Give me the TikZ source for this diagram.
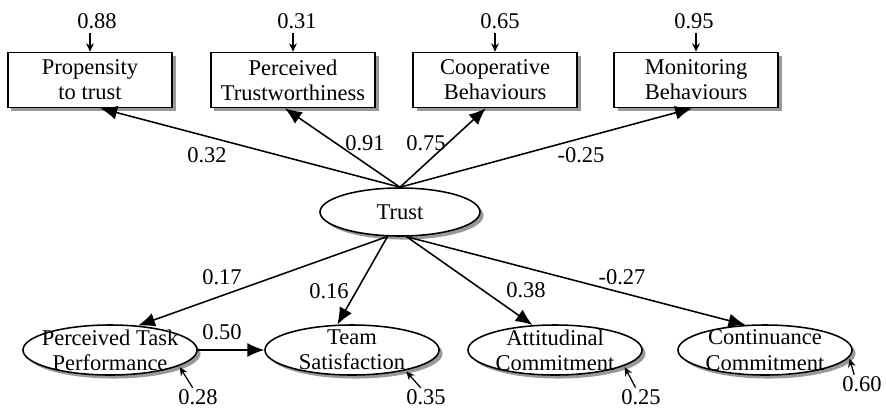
\documentclass[tikz,border=0pt]{standalone}
\usepackage{fontspec}
\setmainfont{Liberation Serif}
\usetikzlibrary{shapes.geometric,arrows.meta,shadows}

\begin{document}
\begin{tikzpicture}[x=0.025cm,y=-0.025cm,
        every node/.style={font=\fontsize{16}{18}\selectfont},
        shade/.style={drop shadow={shadow xshift=2.5pt,shadow yshift=-2.5pt,fill=black!40,opacity=1}},
        obs/.style={draw,fill=white,line width=1.1pt,shade,align=center,inner sep=0pt,
            minimum width=4.1cm,minimum height=1.375cm},
        lat/.style={ellipse,draw,fill=white,line width=1.1pt,shade,align=center,inner sep=-14pt,
            minimum width=4.35cm,minimum height=1.25cm},
        coef/.style={font=\fontsize{16}{18}\selectfont,inner sep=1pt},
        path/.style={-{Latex[length=12pt,width=10pt]},line width=1.1pt},
        resid/.style={-{Stealth[length=6pt,width=5.5pt]},line width=0.9pt}]
    \useasboundingbox (0,0) rectangle (886,408);

    % indicators of trust
    \node[obs] (prop) at (90,80) {Propensity\\to trust};
    \node[obs] (trw) at (293,80) {Perceived\\Trustworthiness};
    \node[obs] (coop) at (495,80) {Cooperative\\Behaviours};
    \node[obs] (mon) at (696,80) {Monitoring\\Behaviours};

    \node[lat,minimum width=4cm,minimum height=1.2cm] (trust) at (400,212) {Trust};

    % outcomes
    \node[lat] (ptp) at (110,350) {Perceived Task\\Performance};
    \node[lat] (ts) at (352,350) {Team\\Satisfaction};
    \node[lat] (att) at (555,350) {Attitudinal\\Commitment};
    \node[lat] (cont) at (765,350) {Continuance\\Commitment};

    % error terms
    \node[coef] (e1) at (97,21) {0.88};
    \node[coef] (e2) at (297,21) {0.31};
    \node[coef] (e3) at (500,21) {0.65};
    \node[coef] (e4) at (694,21) {0.95};
    \node[coef] (r1) at (198,397) {0.28};
    \node[coef] (r2) at (426,397) {0.35};
    \node[coef] (r3) at (641,397) {0.25};
    \node[coef] (r4) at (862,384) {0.60};

    \draw[resid,shorten <=2pt] (e1.south -| prop.north) -- (prop.north);
    \draw[resid,shorten <=2pt] (e2.south -| trw.north) -- (trw.north);
    \draw[resid,shorten <=2pt] (e3.south -| coop.north) -- (coop.north);
    \draw[resid,shorten <=2pt] (e4.south -| mon.north) -- (mon.north);
    \draw[resid,shorten >=1pt] (r1.120) -- (ptp.-13);
    \draw[resid,shorten >=1pt] (r2.120) -- (ts.-21);
    \draw[resid,shorten >=1pt] (r3.120) -- (att.-13);
    \draw[resid,shorten >=1pt] (r4.130) -- (cont.-5);

    % paths
    \draw[path] (trust.north) -- (prop.-70);
    \draw[path] (trust.north) -- (trw.-106);
    \draw[path] (trust.north) -- (coop.-108);
    \draw[path] (trust.north) -- (mon.-98);
    \draw[path] (trust.-117) -- (ptp.41);
    \draw[path] (trust.-117) -- (ts.120);
    \draw[path] (trust.-75) -- (att.132);
    \draw[path] (trust.-75) -- (cont.128);
    \draw[path] (ptp.east) -- (ts.west);

    \node[coef] (c1) at (207,155) {0.32};
    \node[coef] (c2) at (365,143) {0.91};
    \node[coef] (c3) at (426,143) {0.75};
    \node[coef] (c4) at (581,155) {-0.25};
    \node[coef] (c5) at (222,277) {0.17};
    \node[coef] (c6) at (329,291) {0.16};
    \node[coef] (c7) at (526,290) {0.38};
    \node[coef] (c8) at (622,277) {-0.27};
    \node[coef] (c9) at (222,332) {0.50};
\end{tikzpicture}
\end{document}
